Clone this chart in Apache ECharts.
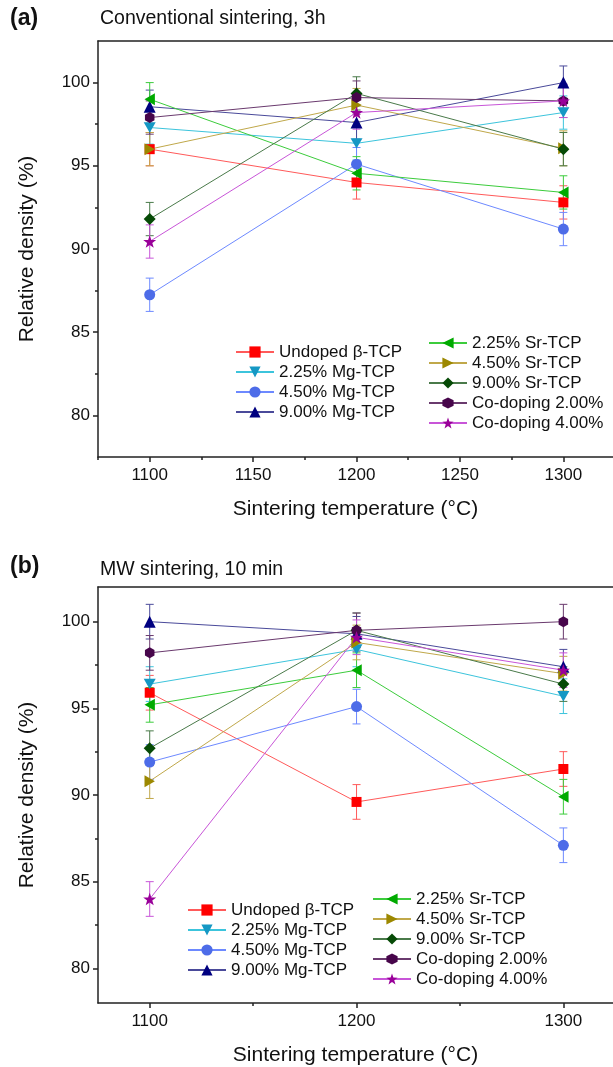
<!DOCTYPE html>
<html>
<head>
<meta charset="utf-8">
<script src="https://cdn.jsdelivr.net/npm/echarts@6/dist/echarts.min.js"></script>
<style>html,body{margin:0;padding:0;background:#fff;}#chart{width:613px;height:1067px;}</style>
</head>
<body>
<div id="chart"></div>
<script>
// ---------- DATA ----------
const temps = [1100, 1200, 1300];
const seriesNames = ['Undoped β-TCP', '2.25% Mg-TCP', '4.50% Mg-TCP', '9.00% Mg-TCP',
  '2.25% Sr-TCP', '4.50% Sr-TCP', '9.00% Sr-TCP', 'Co-doping 2.00%', 'Co-doping 4.00%'];

// (a) Conventional sintering, 3h
const aUndoped = [96.0, 94.0, 92.8];
const aMg225   = [97.3, 96.35, 98.2];
const aMg450   = [87.25, 95.1, 91.2];
const aMg900   = [98.55, 97.6, 100.0];
const aSr225   = [99.0, 94.55, 93.4];
const aSr450   = [96.0, 98.65, 96.05];
const aSr900   = [91.8, 99.35, 96.0];
const aCo200   = [97.9, 99.1, 98.9];
const aCo400   = [90.45, 98.2, 98.9];
const aErr = [[1.0,1.0,1.0],[1.0,1.0,1.0],[1.0,1.0,1.0],[1.0,1.0,1.0],[1.0,1.0,1.0],
              [1.0,1.0,1.05],[1.0,1.0,1.0],[1.0,1.0,1.0],[1.0,1.0,1.0]];

// (b) MW sintering, 10 min
const bUndoped = [95.9, 89.6, 91.5];
const bMg225   = [96.4, 98.4, 95.7];
const bMg450   = [91.9, 95.1, 87.1];
const bMg900   = [100.0, 99.3, 97.4];
const bSr225   = [95.2, 97.2, 89.9];
const bSr450   = [90.8, 98.8, 97.0];
const bSr900   = [92.7, 99.5, 96.4];
const bCo200   = [98.2, 99.5, 100.0];
const bCo400   = [84.0, 99.1, 97.2];
const bErr = [[1.0,1.0,1.0],[1.0,1.0,1.0],[1.0,1.0,1.0],[1.0,1.0,1.0],[1.0,1.0,1.0],
              [1.0,1.0,1.0],[1.0,1.0,1.0],[1.0,1.0,1.0],[1.0,1.0,1.0]];

// tick labels
const aXMajor = [1100, 1150, 1200, 1250, 1300];
const aXMinor = [1075, 1125, 1175, 1225, 1275];
const bXMajor = [1100, 1200, 1300];
const bXMinor = [1150, 1250];
const yMajor = [80, 85, 90, 95, 100];
const yMinor = [82.5, 87.5, 92.5, 97.5];

// ---------- STYLE ----------
const FONT = "'Liberation Sans', Arial, Helvetica, sans-serif";
const markerColors = ['#ff0000', '#1598c4', '#4d6ce8', '#000080', '#00aa00', '#9c8800', '#064a06', '#47064b', '#990099'];
const lineColors   = ['#ff5a5a', '#3cc4dc', '#6d89ff', '#4a4a9a', '#3ccc3c', '#c0a84a', '#4a7a4a', '#6a3a6e', '#c855d8'];
const HEX = 'path://M0,-10 L8.66,-5 L8.66,5 L0,10 L-8.66,5 L-8.66,-5 Z';
const STAR = 'path://M0,-10 L2.35,-3.24 L9.51,-3.09 L3.8,1.24 L5.88,8.09 L0,4 L-5.88,8.09 L-3.8,1.24 L-9.51,-3.09 L-2.35,-3.24 Z';
const TDOWN = 'path://M-5,-4.33 L5,-4.33 L0,4.33 Z';
const TLEFT = 'path://M-4.33,0 L4.33,-5 L4.33,5 Z';
const TRIGHT = 'path://M4.33,0 L-4.33,-5 L-4.33,5 Z';
const symbols = ['rect', TDOWN, 'circle', 'triangle', TLEFT, TRIGHT, 'diamond', HEX, STAR];
const symSizes = [10, 12, 11, 12, 12, 12, 12, 11, 13];

const aVals = [aUndoped, aMg225, aMg450, aMg900, aSr225, aSr450, aSr900, aCo200, aCo400];
const bVals = [bUndoped, bMg225, bMg450, bMg900, bSr225, bSr450, bSr900, bCo200, bCo400];

function errSeries(vals, errs, idx, xi, yi) {
  const color = lineColors[idx];
  return {
    type: 'custom', name: seriesNames[idx] + ' err', xAxisIndex: xi, yAxisIndex: yi,
    data: temps.map((t, k) => [t, vals[k] - errs[k], vals[k] + errs[k]]),
    renderItem: function (params, api) {
      const x = api.value(0);
      const p1 = api.coord([x, api.value(2)]);
      const p2 = api.coord([x, api.value(1)]);
      const w = 4;
      const st = { stroke: color, lineWidth: 1 };
      return { type: 'group', children: [
        { type: 'line', shape: { x1: p1[0], y1: p1[1], x2: p2[0], y2: p2[1] }, style: st },
        { type: 'line', shape: { x1: p1[0] - w, y1: p1[1], x2: p1[0] + w, y2: p1[1] }, style: st },
        { type: 'line', shape: { x1: p2[0] - w, y1: p2[1], x2: p2[0] + w, y2: p2[1] }, style: st }
      ]};
    },
    z: 2, silent: true
  };
}
function lineSeries(vals, idx, xi, yi) {
  return {
    type: 'line', name: seriesNames[idx], xAxisIndex: xi, yAxisIndex: yi,
    data: temps.map((t, k) => [t, vals[k]]),
    symbol: symbols[idx], symbolSize: symSizes[idx], symbolKeepAspect: true,
    showAllSymbol: true,
    itemStyle: { color: markerColors[idx] },
    lineStyle: { color: lineColors[idx], width: 1 },
    z: 3, animation: false
  };
}
const series = [];
aVals.forEach((v, i) => { series.push(errSeries(v, aErr[i], i, 0, 0)); });
aVals.forEach((v, i) => { series.push(lineSeries(v, i, 0, 0)); });
bVals.forEach((v, i) => { series.push(errSeries(v, bErr[i], i, 3, 2)); });
bVals.forEach((v, i) => { series.push(lineSeries(v, i, 3, 2)); });

const axisLineStyle = { color: '#222', width: 1.5 };
const tickLabel = { fontSize: 17, color: '#111', fontFamily: FONT };
const nameStyle = { fontSize: 21, color: '#111', fontFamily: FONT };
const XMIN = 1075, XMAX = 1324;

function mainX(grid, major) {
  return { type: 'value', gridIndex: grid, min: XMIN, max: XMAX, position: 'bottom',
    name: 'Sintering temperature (°C)', nameLocation: 'middle', nameGap: 42, nameTextStyle: nameStyle,
    axisLine: { show: true, lineStyle: axisLineStyle },
    axisTick: { show: true, length: 5, lineStyle: axisLineStyle, customValues: major },
    axisLabel: { show: true, margin: 10, customValues: major, formatter: v => String(v), ...tickLabel },
    splitLine: { show: false } };
}
function minorX(grid, minor) {
  return { type: 'value', gridIndex: grid, min: XMIN, max: XMAX, position: 'bottom',
    axisLine: { show: false }, axisTick: { show: true, length: 3, lineStyle: axisLineStyle, customValues: minor },
    axisLabel: { show: false }, splitLine: { show: false } };
}
function topX(grid) {
  return { type: 'value', gridIndex: grid, min: XMIN, max: XMAX, position: 'top',
    axisLine: { show: true, lineStyle: axisLineStyle }, axisTick: { show: false },
    axisLabel: { show: false }, splitLine: { show: false } };
}
function mainY(grid, min, max) {
  return { type: 'value', gridIndex: grid, min: min, max: max, position: 'left',
    name: 'Relative density (%)', nameLocation: 'middle', nameGap: 60, nameTextStyle: nameStyle,
    axisLine: { show: true, lineStyle: axisLineStyle },
    axisTick: { show: true, length: 5, lineStyle: axisLineStyle, customValues: yMajor },
    axisLabel: { show: true, margin: 8, customValues: yMajor, formatter: v => String(v), ...tickLabel },
    splitLine: { show: false } };
}
function minorY(grid, min, max) {
  return { type: 'value', gridIndex: grid, min: min, max: max, position: 'left',
    axisLine: { show: false }, axisTick: { show: true, length: 3, lineStyle: axisLineStyle, customValues: yMinor },
    axisLabel: { show: false }, splitLine: { show: false } };
}

const legendBase = { orient: 'vertical', itemWidth: 38, itemHeight: 14, itemGap: 0, padding: 0,
  selectedMode: false, textStyle: { fontSize: 17, lineHeight: 20, color: '#111', fontFamily: FONT } };

const option = {
  backgroundColor: '#fff',
  animation: false,
  textStyle: { fontFamily: FONT },
  title: [
    { text: '(a)', left: 10, top: 7, padding: 0, textStyle: { fontSize: 23, fontWeight: 'bold', color: '#111', fontFamily: FONT } },
    { text: 'Conventional sintering, 3h', left: 100, top: 9, padding: 0, textStyle: { fontSize: 19.5, fontWeight: 'normal', color: '#111', fontFamily: FONT } },
    { text: '(b)', left: 10, top: 555, padding: 0, textStyle: { fontSize: 23, fontWeight: 'bold', color: '#111', fontFamily: FONT } },
    { text: 'MW sintering, 10 min', left: 100, top: 560, padding: 0, textStyle: { fontSize: 19.5, fontWeight: 'normal', color: '#111', fontFamily: FONT } }
  ],
  grid: [
    { left: 98, top: 41, right: 0, height: 416 },
    { left: 98, top: 587, right: 0, height: 416 }
  ],
  xAxis: [ mainX(0, aXMajor), minorX(0, aXMinor), topX(0),
           mainX(1, bXMajor), minorX(1, bXMinor), topX(1) ],
  yAxis: [ mainY(0, 77.5, 102.5), minorY(0, 77.5, 102.5), mainY(1, 78, 102), minorY(1, 78, 102) ],
  legend: [
    { ...legendBase, left: 235, top: 342, data: seriesNames.slice(0, 4) },
    { ...legendBase, left: 428, top: 333, data: seriesNames.slice(4) },
    { ...legendBase, left: 187, top: 900, data: seriesNames.slice(0, 4) },
    { ...legendBase, left: 372, top: 889, data: seriesNames.slice(4) }
  ],
  series: series
};
const chart = echarts.init(document.getElementById('chart'), null, { renderer: 'canvas' });
chart.setOption(option);
</script>
</body>
</html>
